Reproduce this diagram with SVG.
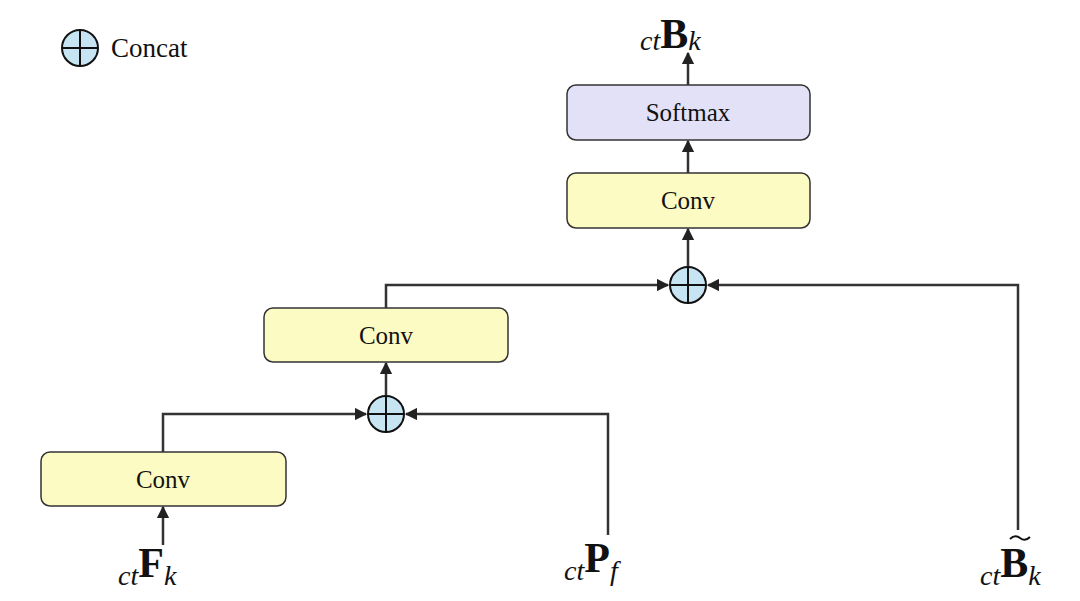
<svg xmlns="http://www.w3.org/2000/svg" width="1080" height="601" viewBox="0 0 1080 601">
<style>
.box{stroke:#333;stroke-width:1.5}
.conv{fill:#fdfbc4}
.soft{fill:#e2e1f8}
.t{font-family:"Liberation Serif",serif;font-size:25px;fill:#111;text-anchor:middle}
.m{font-family:"Liberation Serif",serif;fill:#111}
.s{font-style:italic;font-size:28px}
.b{font-weight:bold;font-size:42px}
.ln{fill:none;stroke:#333;stroke-width:2.5}
.cc{fill:#c7e4f2;stroke:#111;stroke-width:2}
.cx{stroke:#111;stroke-width:2}
</style>
<defs>
<marker id="a" viewBox="0 0 10 10" refX="9" refY="5" markerWidth="5" markerHeight="5" orient="auto-start-reverse" markerUnits="strokeWidth"><path d="M0,0L10,5L0,10z" fill="#222"/></marker>
<g id="cat"><circle class="cc" r="18"/><line class="cx" x1="-18" y1="0" x2="18" y2="0"/><line class="cx" x1="0" y1="-18" x2="0" y2="18"/></g>
</defs>
<g id="legend"><use href="#cat" x="80" y="48"/><text class="m" x="111" y="57" font-size="27">Concat</text></g>
<g id="connectors">
<path class="ln" d="M688,266V229" marker-end="url(#a)"/>
<path class="ln" d="M688,173V141" marker-end="url(#a)"/>
<path class="ln" d="M688,85V53" marker-end="url(#a)"/>
<path class="ln" d="M386,308V285H668" marker-end="url(#a)"/>
<path class="ln" d="M1018,530V285H708" marker-end="url(#a)"/>
<path class="ln" d="M386,395V363" marker-end="url(#a)"/>
<path class="ln" d="M163,452V414H366" marker-end="url(#a)"/>
<path class="ln" d="M608,535V414H406" marker-end="url(#a)"/>
<path class="ln" d="M163,545V507" marker-end="url(#a)"/>
</g>
<g id="softmax"><rect class="box soft" x="567" y="85" width="243" height="55" rx="9"/><text class="t" x="688" y="121">Softmax</text></g>
<g id="conv3"><rect class="box conv" x="567" y="173" width="243" height="55" rx="9"/><text class="t" x="688" y="209">Conv</text></g>
<g id="concat2"><use href="#cat" x="688" y="285"/></g>
<g id="conv2"><rect class="box conv" x="264" y="308" width="244" height="54" rx="9"/><text class="t" x="386" y="344">Conv</text></g>
<g id="concat1"><use href="#cat" x="386" y="414"/></g>
<g id="conv1"><rect class="box conv" x="41" y="452" width="245" height="54" rx="9"/><text class="t" x="163" y="488">Conv</text></g>
<g id="out"><text class="m" x="640" y="50"><tspan class="s">ct</tspan><tspan class="b" dy="-2">B</tspan><tspan class="s" dy="2">k</tspan></text></g>
<g id="inF"><text class="m" x="118" y="585"><tspan class="s">ct</tspan><tspan class="b" dy="-8">F</tspan><tspan class="s" dy="8">k</tspan></text></g>
<g id="inP"><text class="m" x="564" y="580"><tspan class="s">ct</tspan><tspan class="b" dy="-8">P</tspan><tspan class="s" dy="8">f</tspan></text></g>
<g id="inB"><text class="m" x="980" y="585"><tspan class="s">ct</tspan><tspan class="b" dy="-8">B</tspan><tspan class="s" dy="8">k</tspan></text><path d="M1010,539q5,-5 10,-1t10,-1" fill="none" stroke="#111" stroke-width="2"/></g>
</svg>
